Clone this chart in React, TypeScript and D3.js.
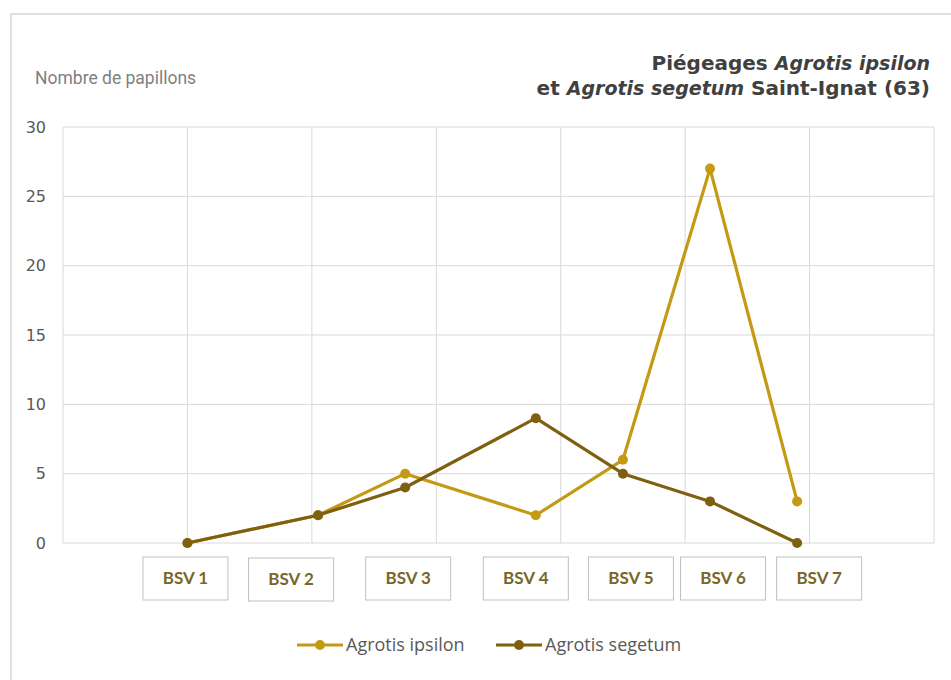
import React from 'react';
import * as d3 from 'd3';

// BSV releases, x in days from the start of the axis
const bsvLabels = ['BSV 1', 'BSV 2', 'BSV 3', 'BSV 4', 'BSV 5', 'BSV 6', 'BSV 7'];
const bsvDays = [10, 20.5, 27.5, 38, 45, 52, 59];
const ipsilon = [0, 2, 5, 2, 6, 27, 3];
const segetum = [0, 2, 4, 9, 5, 3, 0];
const yTicks = [0, 5, 10, 15, 20, 25, 30];
const xGrid = [0, 10, 20, 30, 40, 50, 60, 70];

// hand placed label boxes in the original, nudged from their point (px)
const labelNudge = [-2, -27, 3, -10, 8, 13, 22];
const labelDrop = [0, 1, 0, 0, 0, 0, 0];

const W = 951;
const H = 680;
const margin = { top: 127, right: 17, bottom: 137, left: 63 };

const C_IPS = '#C49A14';
const C_SEG = '#7F6010';
const GRID = '#d9d9d9';

const App: React.FC = () => {
  const x = d3.scaleLinear().domain([0, 70]).range([margin.left, W - margin.right]);
  const y = d3.scaleLinear().domain([0, 30]).range([H - margin.bottom, margin.top]);

  const line = d3.line<number>()
    .x((_, i) => x(bsvDays[i]))
    .y(d => y(d));

  const series = [
    { name: 'Agrotis ipsilon', values: ipsilon, color: C_IPS },
    { name: 'Agrotis segetum', values: segetum, color: C_SEG },
  ];

  const titleStyle = { fontFamily: 'DejaVu Sans, sans-serif', fontWeight: 'bold', fontSize: 20, fill: '#404040' } as const;

  return (
    <svg width={W} height={H} style={{ position: 'absolute', left: 0, top: 0, background: '#fff' }}>
      {/* outer frame */}
      <path d={`M11,${H} V14 H${W}`} fill="none" stroke="#e0e0e0" strokeWidth={2} />

      {/* gridlines */}
      {yTicks.map(t => (
        <line key={'h' + t} x1={x(0)} x2={x(70)} y1={y(t)} y2={y(t)} stroke={GRID} strokeWidth={1} />
      ))}
      {xGrid.map(t => (
        <line key={'v' + t} x1={x(t)} x2={x(t)} y1={y(0)} y2={y(30)} stroke={GRID} strokeWidth={1} />
      ))}

      {/* y tick labels */}
      {yTicks.map(t => (
        <text key={'t' + t} x={46} y={y(t)} dy="0.36em" textAnchor="end"
          style={{ fontFamily: 'DejaVu Sans, sans-serif', fontSize: 16, fill: '#595959' }}>{t}</text>
      ))}

      <text x={35} y={84} style={{ fontFamily: 'Roboto, sans-serif', fontSize: 17.5, fill: '#7f7f7f' }}>
        Nombre de papillons
      </text>

      {/* title */}
      <text x={930} y={70} textAnchor="end" style={titleStyle}>
        Piégeages <tspan fontStyle="italic" fontSize={19}>Agrotis ipsilon</tspan>
      </text>
      <text x={930} y={95} textAnchor="end" style={titleStyle}>
        et <tspan fontStyle="italic" fontSize={19}>Agrotis segetum</tspan> Saint-Ignat (63)
      </text>

      {/* series */}
      {series.map(s => (
        <g key={s.name}>
          <path d={line(s.values) || ''} fill="none" stroke={s.color} strokeWidth={3.2} strokeLinejoin="round" />
          {s.values.map((v, i) => (
            <circle key={i} cx={x(bsvDays[i])} cy={y(v)} r={5} fill={s.color} />
          ))}
        </g>
      ))}

      {/* BSV label boxes */}
      {bsvLabels.map((lab, i) => {
        const cx = x(bsvDays[i]) + labelNudge[i];
        const top = y(0) + 14 + labelDrop[i];
        return (
          <g key={lab}>
            <rect x={cx - 42.5} y={top} width={85} height={43} fill="#fff" stroke="#c0c0c0" strokeWidth={1} />
            <text x={cx} y={top + 21.5} dy="0.35em" textAnchor="middle"
              style={{ fontFamily: 'Lato, sans-serif', fontWeight: 'bold', fontSize: 17, fill: '#786628' }}>{lab}</text>
          </g>
        );
      })}

      {/* legend */}
      {series.map((s, i) => {
        const lx = 297 + i * 199;
        return (
          <g key={'lg' + s.name}>
            <line x1={lx} x2={lx + 46} y1={645} y2={645} stroke={s.color} strokeWidth={3.2} />
            <circle cx={lx + 23} cy={645} r={5} fill={s.color} />
            <text x={lx + 49} y={645} dy="0.35em"
              style={{ fontFamily: 'Open Sans, sans-serif', fontSize: 18, fill: '#595959' }}>{s.name}</text>
          </g>
        );
      })}
    </svg>
  );
};

export default App;
